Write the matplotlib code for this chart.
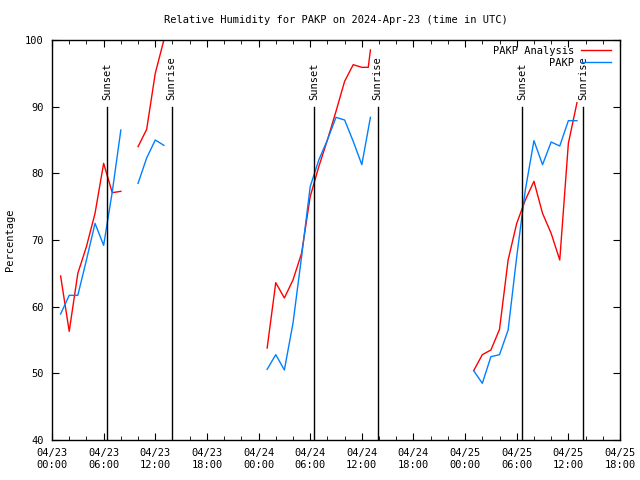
import numpy as np
import matplotlib
matplotlib.use("Agg")
import matplotlib.pyplot as plt
from matplotlib.ticker import MultipleLocator

nan = np.nan

# hours since 2024-04-23 00:00 UTC
analysis_hours = [1, 2, 3, 4, 5, 6, 7, 8, 8.5,
                  10, 11, 12, 13, 13.5,
                  25, 26, 27, 28, 29, 30, 31, 32, 33, 34, 35, 36, 36.75, 37, 37.5,
                  49, 50, 51, 52, 53, 54, 55, 56, 57, 58, 59, 60, 61]
analysis_rh = [64.6, 56.3, 65.0, 69.0, 74.0, 81.5, 77.1, 77.3, nan,
               84.0, 86.6, 95.0, 100.0, nan,
               53.8, 63.6, 61.3, 64.0, 68.0, 76.5, 81.0, 85.0, 89.3, 93.8, 96.3, 95.9, 95.9, 98.5, nan,
               50.4, 52.8, 53.5, 56.6, 67.0, 72.5, 76.0, 78.8, 74.0, 71.0, 67.0, 84.5, 90.6]

obs_hours = [1, 2, 3, 4, 5, 6, 7, 8, 8.5,
             10, 11, 12, 13, 13.5,
             25, 26, 27, 28, 29, 30, 31, 32, 33, 34, 35, 36, 37, 37.5,
             49, 50, 51, 52, 53, 54, 55, 56, 57, 58, 59, 60, 61]
obs_rh = [58.9, 61.7, 61.7, 67.0, 72.5, 69.2, 77.2, 86.5, nan,
          78.5, 82.3, 85.0, 84.2, nan,
          50.6, 52.8, 50.5, 57.5, 67.5, 78.0, 82.0, 85.0, 88.4, 88.0, 84.8, 81.3, 88.4, nan,
          50.4, 48.5, 52.5, 52.8, 56.5, 67.5, 77.5, 84.9, 81.3, 84.7, 84.1, 87.9, 87.9]

sunset_hours = [6.43, 30.48, 54.6]
sunrise_hours = [13.9, 37.85, 61.75]

xtick_hours = list(range(0, 67, 6))
xtick_labels = ["04/23\n00:00", "04/23\n06:00", "04/23\n12:00", "04/23\n18:00",
                "04/24\n00:00", "04/24\n06:00", "04/24\n12:00", "04/24\n18:00",
                "04/25\n00:00", "04/25\n06:00", "04/25\n12:00", "04/25\n18:00"]

plt.rcParams["font.family"] = ["DejaVu Sans Mono"]
plt.rcParams["font.size"] = 7.5

fig = plt.figure(figsize=(6.4, 4.8), dpi=100)
ax = fig.add_axes([52 / 640, 40 / 480, 568 / 640, 400 / 480])

ax.plot(analysis_hours, analysis_rh, color="#ff0000", lw=1.0, label="PAKP Analysis")
ax.plot(obs_hours, obs_rh, color="#0080ff", lw=1.0, label="PAKP")

for h in sunset_hours:
    ax.plot([h, h], [40, 90], color="black", lw=1.0)
    ax.text(h, 91, "Sunset", rotation=90, ha="center", va="bottom")
for h in sunrise_hours:
    ax.plot([h, h], [40, 90], color="black", lw=1.0)
    ax.text(h, 91, "Sunrise", rotation=90, ha="center", va="bottom")

ax.set_xlim(0, 66)
ax.set_ylim(40, 100)
ax.set_xticks(xtick_hours)
ax.set_xticklabels(xtick_labels)
ax.xaxis.set_minor_locator(MultipleLocator(2))
ax.set_yticks(range(40, 101, 10))
ax.tick_params(which="both", direction="in", top=True, right=True, labelsize=7.5, pad=6)
ax.tick_params(which="major", length=5)
ax.tick_params(which="minor", length=3)
for s in ax.spines.values():
    s.set_linewidth(1.0)

ax.set_ylabel("Percentage", fontsize=7.5, labelpad=7.5)
ax.set_title("Relative Humidity for PAKP on 2024-Apr-23 (time in UTC)", fontsize=7.5, pad=12)

ax.legend(loc="upper right", bbox_to_anchor=(0.984, 0.985), frameon=False,
          markerfirst=False, handlelength=2.9, handletextpad=0.65,
          labelspacing=0.15, borderaxespad=0, borderpad=0)

fig.savefig("out.png", dpi=100)
